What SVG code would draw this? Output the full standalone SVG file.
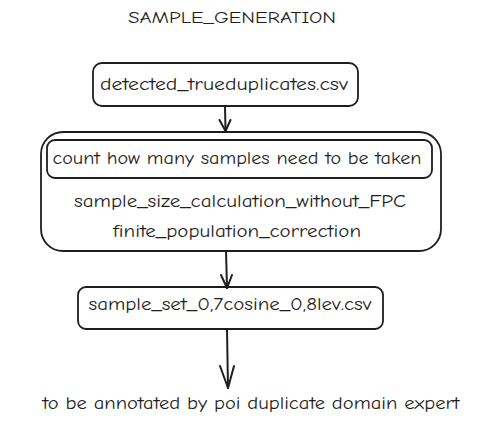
<svg xmlns="http://www.w3.org/2000/svg" width="498" height="427" viewBox="0 0 498 427">
<defs>
<style>
.box{fill:none;stroke:#1e1e1e;stroke-width:1.8;stroke-linejoin:round}
.t{font-family:"Comic Neue","Liberation Sans",sans-serif;fill:#1e1e1e;text-anchor:middle;dominant-baseline:central}
.c{fill:none;stroke:#1e1e1e;stroke-width:2;stroke-linecap:round;stroke-linejoin:round}
</style>
</defs>
<rect width="498" height="427" fill="#ffffff"/>
<g id="title"><text class="t" x="232" y="18" font-size="15" textLength="208" lengthAdjust="spacingAndGlyphs">SAMPLE_GENERATION</text></g>
<g id="node-input">
<rect class="box" x="93" y="63" width="265" height="43" rx="9"/>
<text class="t" x="224" y="84" font-size="17" textLength="248" lengthAdjust="spacingAndGlyphs">detected_trueduplicates.csv</text>
</g>
<g id="node-calc">
<rect class="box" x="41" y="132" width="400" height="119" rx="22"/>
<rect class="box" x="47" y="140" width="385" height="38" rx="8"/>
<text class="t" x="237" y="158" font-size="17" textLength="369" lengthAdjust="spacingAndGlyphs">count how many samples need to be taken</text>
<text class="t" x="240" y="201" font-size="17" textLength="332" lengthAdjust="spacingAndGlyphs">sample_size_calculation_without_FPC</text>
<text class="t" x="237" y="231" font-size="17" textLength="248" lengthAdjust="spacingAndGlyphs">finite_population_correction</text>
</g>
<g id="node-sample">
<rect class="box" x="78" y="287" width="305" height="42" rx="8"/>
<text class="t" x="230" y="304" font-size="17" textLength="283" lengthAdjust="spacingAndGlyphs">sample_set_0,7cosine_0,8lev.csv</text>
</g>
<g id="node-annot">
<text class="t" x="251" y="403" font-size="17" textLength="417" lengthAdjust="spacingAndGlyphs">to be annotated by poi duplicate domain expert</text>
</g>
<g id="connectors">
<path class="c" d="M225 106 L225.5 131"/>
<path class="c" d="M219.5 120 L225.5 131 L230.5 120"/>
<path class="c" d="M226 251 L227 288"/>
<path class="c" d="M221 275 L227 288 L232 275"/>
<path class="c" d="M227 329 L228 388"/>
<path class="c" d="M220 366 L228 388 L234 366"/>
</g>
</svg>
